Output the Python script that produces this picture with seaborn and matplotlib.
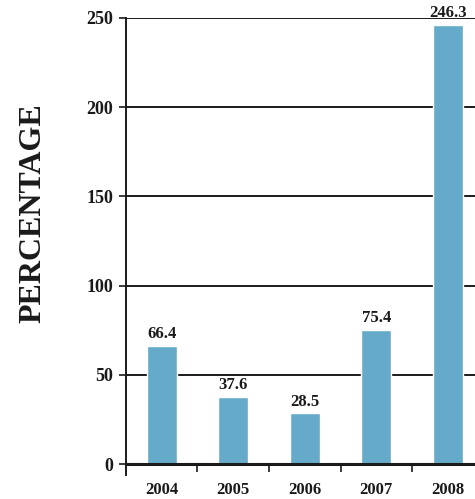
import matplotlib
matplotlib.use("Agg")
import matplotlib.pyplot as plt
import seaborn as sns
import pandas as pd
from matplotlib.ticker import FixedLocator

years = ["2004", "2005", "2006", "2007", "2008"]
values = [66.4, 37.6, 28.5, 75.4, 246.3]
y_ticks = [0, 50, 100, 150, 200, 250]

df = pd.DataFrame({"year": years, "value": values})

sns.set_theme(style="white")
plt.rcParams["font.family"] = ["Liberation Serif", "DejaVu Serif"]
plt.rcParams["font.weight"] = "bold"

fig = plt.figure(figsize=(4.75, 4.99), dpi=100)
ax = fig.add_axes([0.265, 0.07, 0.735, 0.894])

sns.barplot(data=df, x="year", y="value", color="#65abc9", width=0.42,
            saturation=1, ax=ax, zorder=3)

ax.set_ylim(0, 250)
ax.set_xlim(-0.5, 4.38)
ax.set_yticks(y_ticks)
ax.yaxis.grid(True, color="#1a1a1a", linewidth=1.4, zorder=0)
ax.xaxis.grid(False)

for s in ["top", "right"]:
    ax.spines[s].set_visible(False)
ax.spines["left"].set_color("#1a1a1a")
ax.spines["left"].set_linewidth(1.4)
ax.spines["left"].set_bounds(-6, 250)
ax.spines["bottom"].set_color("#1a1a1a")
ax.spines["bottom"].set_linewidth(2.2)
ax.spines["bottom"].set_zorder(4)

ax.tick_params(axis="y", left=True, length=5, width=1.2, color="#1a1a1a",
               labelsize=13, pad=4, labelcolor="#1a1a1a")
ax.tick_params(axis="x", which="major", bottom=False, length=0,
               labelsize=12, pad=13, labelcolor="#1a1a1a")
ax.xaxis.set_minor_locator(FixedLocator([0.5, 1.5, 2.5, 3.5]))
ax.tick_params(axis="x", which="minor", bottom=True, length=6, width=1.2,
               color="#1a1a1a")
for lbl in ax.get_xticklabels() + ax.get_yticklabels():
    lbl.set_fontweight("bold")

ax.set_xlabel("")
ax.set_ylabel("")
fig.text(0.07, 0.573, "PERCENTAGE", rotation=90, ha="center", va="center",
         fontsize=23, fontweight="bold", color="#1a1a1a")

for i, v in enumerate(values):
    ax.text(i, v + 2.0, f"{v:.1f}", ha="center", va="bottom", fontsize=12,
            fontweight="bold", color="#1a1a1a", clip_on=False, zorder=5)

fig.savefig("out.png", dpi=100)
